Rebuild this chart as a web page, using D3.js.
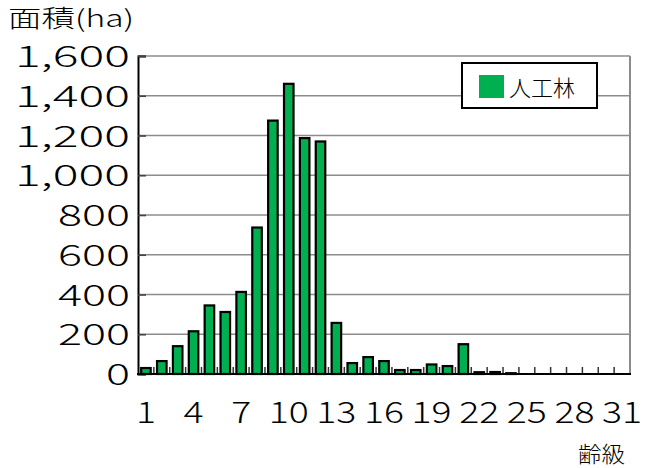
<!DOCTYPE html>
<html>
<head>
<meta charset="utf-8">
<script src="https://cdn.jsdelivr.net/npm/d3@7"></script>
<style>
  body { margin: 0; background: #fff; }
  text { font-family: "Noto Sans CJK JP", sans-serif; font-weight: 300; fill: #000; }
</style>
</head>
<body>
<div id="chart"></div>
<script>
// データ
const ageClasses = d3.range(1, 32);            // 齢級 1..31
const plantedArea = [30, 65, 140, 215, 345, 312, 413, 737, 1275, 1460,
                     1187, 1170, 257, 55, 85, 65, 20, 20, 48, 40,
                     150, 9, 10, 4, 0, 0, 0, 0, 0, 0, 0];
const yTicks = [0, 200, 400, 600, 800, 1000, 1200, 1400, 1600];
const xLabels = [1, 4, 7, 10, 13, 16, 19, 22, 25, 28, 31];
const seriesName = '人工林';

const width = 648;
const height = 468;
const plot = { left: 138, right: 630, top: 56, bottom: 374 };
const green = '#00b050';

const svg = d3.select('#chart')
  .append('svg')
  .attr('width', width)
  .attr('height', height);

const x = d3.scaleBand()
  .domain(ageClasses)
  .range([plot.left, plot.right])
  .paddingInner(0.4)
  .paddingOuter(0.2);

const y = d3.scaleLinear()
  .domain([0, 1600])
  .range([plot.bottom, plot.top]);

// グリッド線
svg.append('g')
  .selectAll('line')
  .data(yTicks.filter(d => d > 0))
  .enter()
  .append('line')
  .attr('x1', plot.left)
  .attr('x2', plot.right)
  .attr('y1', d => y(d))
  .attr('y2', d => y(d))
  .attr('stroke', '#8c8c8c')
  .attr('stroke-width', 1.6);

// 右の枠
svg.append('line')
  .attr('x1', plot.right).attr('x2', plot.right)
  .attr('y1', plot.top).attr('y2', plot.bottom)
  .attr('stroke', '#8c8c8c')
  .attr('stroke-width', 2);

// 棒
svg.append('g')
  .selectAll('rect')
  .data(plantedArea)
  .enter()
  .append('rect')
  .attr('x', (d, i) => x(ageClasses[i]))
  .attr('y', d => y(d))
  .attr('width', x.bandwidth())
  .attr('height', d => plot.bottom - y(d))
  .attr('fill', green)
  .attr('stroke', '#000')
  .attr('stroke-width', 2.2)
  .attr('display', d => d > 0 ? null : 'none');

// X軸の目盛り（内向き）
const step = x.step();
svg.append('g')
  .selectAll('line')
  .data(ageClasses.slice(0, -1))
  .enter()
  .append('line')
  .attr('x1', d => x(d) - step * 0.2 + step)
  .attr('x2', d => x(d) - step * 0.2 + step)
  .attr('y1', plot.bottom)
  .attr('y2', plot.bottom - 7)
  .attr('stroke', '#333')
  .attr('stroke-width', 1.5);

// Y軸
const yAxis = svg.append('g')
  .attr('transform', `translate(${plot.left},0)`)
  .call(d3.axisLeft(y).tickValues(yTicks).tickSize(-8).tickFormat(''));
yAxis.select('.domain').attr('stroke', '#000').attr('stroke-width', 2);
yAxis.selectAll('.tick line').attr('stroke', '#444').attr('stroke-width', 1.6);

// X軸の線
svg.append('line')
  .attr('x1', plot.left - 1).attr('x2', plot.right + 1)
  .attr('y1', plot.bottom).attr('y2', plot.bottom)
  .attr('stroke', '#000')
  .attr('stroke-width', 2);

// Y軸ラベル
const fmt = d3.format(',');
svg.append('g')
  .selectAll('text')
  .data(yTicks)
  .enter()
  .append('text')
  .attr('x', 130)
  .attr('y', d => y(d) + 11)
  .attr('text-anchor', 'end')
  .attr('font-size', 30)
  .attr('textLength', d => {
    const s = fmt(d);
    return s.replace(/,/g, '').length * 24 + (s.includes(',') ? 19 : 0);
  })
  .attr('lengthAdjust', 'spacingAndGlyphs')
  .text(d => fmt(d));

// X軸ラベル
svg.append('g')
  .selectAll('text')
  .data(xLabels)
  .enter()
  .append('text')
  .attr('x', d => x(d) + x.bandwidth() / 2)
  .attr('y', 423)
  .attr('text-anchor', 'middle')
  .attr('font-size', 30)
  .attr('textLength', d => String(d).length * 20)
  .attr('lengthAdjust', 'spacingAndGlyphs')
  .text(d => d);

// 軸タイトル
svg.append('text')
  .attr('x', 8)
  .attr('y', 27)
  .attr('font-size', 24)
  .attr('textLength', 126)
  .attr('lengthAdjust', 'spacingAndGlyphs')
  .text('面積(ha)');

svg.append('text')
  .attr('x', 578)
  .attr('y', 462)
  .attr('font-size', 22)
  .attr('textLength', 47)
  .attr('lengthAdjust', 'spacingAndGlyphs')
  .text('齢級');

// 凡例
const legend = svg.append('g').attr('class', 'legend');
legend.append('rect')
  .attr('x', 462).attr('y', 63)
  .attr('width', 135).attr('height', 45)
  .attr('fill', '#fff')
  .attr('stroke', '#000')
  .attr('stroke-width', 2);
legend.append('rect')
  .attr('x', 479).attr('y', 75)
  .attr('width', 25).attr('height', 23)
  .attr('fill', green);
legend.append('text')
  .attr('x', 509).attr('y', 96)
  .attr('font-size', 22)
  .text(seriesName);
</script>
</body>
</html>
